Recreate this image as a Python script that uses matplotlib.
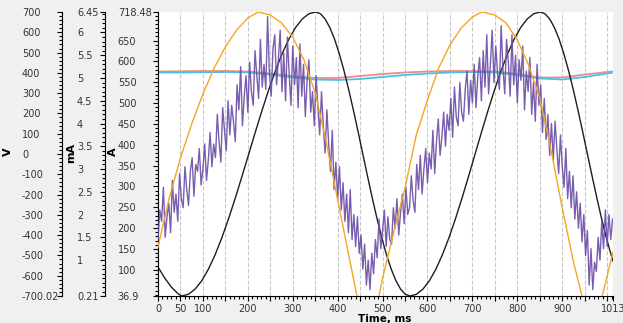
import numpy as np
import matplotlib.pyplot as plt
from matplotlib.ticker import FixedLocator, FixedFormatter, MultipleLocator

# black trace (A)
t_black = [0, 15, 30, 45, 53,
           67.9, 82.8, 97.7, 112.6, 127.5, 142.4, 157.3, 172.2, 187.1, 202, 216.9, 231.8,
           246.7, 261.6, 276.5, 291.4, 306.3, 321.2, 336.1, 351,
           361.5, 372, 382.5, 393, 403.5, 414, 424.5, 435, 445.5, 456, 466.5, 477, 487.5,
           498, 508.5, 519, 529.5, 540, 550.5, 561,
           575.5, 590, 604.5, 619, 633.5, 648, 662.5, 677, 691.5, 706, 720.5, 735, 749.5,
           764, 778.5, 793, 807.5, 822, 836.5, 851,
           861.5, 872, 882.5, 893, 903.5, 914, 924.5, 935, 945.5, 956, 966.5, 977, 987.5,
           998, 1008.5, 1013]
black_a = [106.5, 80.0, 58.0, 42.0, 36.9,
           41.1, 53.6, 74.0, 102.0, 136.7, 177.4, 223.0, 272.4, 324.4, 377.7, 431.0, 483.0,
           532.4, 578.0, 618.7, 653.4, 681.3, 701.8, 714.3, 718.48,
           714.3, 701.8, 681.3, 653.4, 618.7, 578.0, 532.4, 483.0, 431.0, 377.7, 324.4,
           272.4, 223.0, 177.4, 136.7, 102.0, 74.0, 53.6, 41.1, 36.9,
           41.1, 53.6, 74.0, 102.0, 136.7, 177.4, 223.0, 272.4, 324.4, 377.7, 431.0, 483.0,
           532.4, 578.0, 618.7, 653.4, 681.3, 701.8, 714.3, 718.48,
           714.3, 701.8, 681.3, 653.4, 618.7, 578.0, 532.4, 483.0, 431.0, 377.7, 324.4,
           272.4, 223.0, 177.4, 136.7, 120.7]

# orange trace (V)
t_orange = [0, 25, 50, 75, 100, 125, 150, 175, 200, 223, 250, 275, 300, 325, 350, 375,
            400, 425, 443, 455, 467, 480, 492, 500, 525, 550, 575, 600, 625, 650, 675,
            700, 721, 750, 775, 800, 825, 850, 875, 900, 925, 944, 955, 966, 978, 989,
            1000, 1013]
orange_v = [-458.4, -216.9, -19.7, 147.9, 295.8, 424.0, 527.6, 611.4, 670.5, 700.0,
            685.3, 645.9, 576.8, 463.5, 300.8, 54.3, -226.7, -502.8, -700.0, -790.0,
            -825.0, -790.0, -700.0, -611.3, -384.5, -167.6, 93.7, 266.3, 424.0, 537.4,
            621.2, 675.4, 700.0, 685.3, 645.9, 562.1, 438.8, 276.1, 19.8, -266.2, -532.4,
            -700.0, -790.0, -825.0, -790.0, -700.0, -601.4, -483.1]

# purple trace (mA), sampled every 4 ms
t_purple = np.arange(0, 1013, 4)
purple_ma = [
    1.45, 2.10, 1.85, 2.60, 1.50, 1.95, 2.25, 1.60, 2.75, 2.05,
    2.45, 1.85, 2.90, 2.35, 2.15, 3.05, 2.55, 2.20, 2.95, 3.25,
    2.40, 3.10, 2.95, 3.45, 2.65, 3.00, 3.55, 2.75, 3.20, 3.80,
    3.05, 3.55, 3.25, 4.20, 3.60, 3.15, 4.35, 3.85, 3.40, 4.50,
    3.75, 4.40, 4.05, 3.60, 4.85, 4.30, 5.25, 3.95, 4.60, 5.05,
    4.25, 5.35, 4.70, 4.40, 5.60, 5.05, 4.55, 5.85, 4.80, 5.30,
    4.75, 6.35, 5.10, 4.60, 5.65, 5.95, 4.85, 5.40, 6.05, 4.70,
    5.55, 4.50, 5.90, 5.10, 4.40, 5.70, 4.85, 5.45, 4.35, 5.75,
    4.60, 5.30, 4.15, 4.95, 5.40, 4.25, 4.70, 3.95, 5.05, 4.35,
    3.75, 4.70, 3.95, 3.35, 4.30, 3.55, 2.95, 3.85, 2.55, 3.15,
    2.35, 3.05, 2.10, 2.70, 1.85, 2.45, 1.60, 2.55, 1.45, 2.00,
    1.30, 1.95, 1.15, 1.55, 0.80, 1.35, 0.45, 1.00, 0.35, 1.15,
    0.70, 1.45, 1.05, 1.90, 1.25, 1.65, 2.10, 1.30, 1.95, 1.45,
    1.35, 2.15, 1.70, 2.35, 1.55, 2.05, 2.45, 1.80, 2.60, 2.00,
    2.15, 2.85, 2.30, 2.05, 3.10, 2.55, 3.30, 2.45, 3.00, 3.45,
    2.70, 3.35, 3.00, 3.85, 2.90, 3.60, 4.10, 3.30, 3.70, 4.25,
    3.50, 4.20, 3.85, 4.55, 3.70, 4.80, 4.15, 3.95, 4.90, 4.25,
    4.05, 4.75, 5.15, 4.20, 4.95, 4.45, 5.30, 4.35, 5.05, 5.45,
    4.50, 5.60, 4.80, 5.95, 4.65, 5.30, 6.05, 4.90, 5.70, 5.10,
    4.75, 6.15, 5.20, 4.65, 5.85, 5.35, 4.60, 5.95, 4.85, 5.50,
    4.45, 5.40, 4.95, 5.70, 4.30, 5.15, 4.70, 5.45, 4.20, 4.90,
    4.05, 5.30, 4.40, 4.85, 3.80, 4.55, 3.65, 4.20, 3.30, 4.00,
    3.20, 4.05, 3.45, 2.90, 3.75, 3.05, 2.60, 3.45, 2.35, 2.95,
    2.15, 2.85, 1.90, 2.50, 1.70, 2.25, 1.40, 2.00, 1.10, 1.65,
    0.45, 1.25, 0.35, 0.95, 0.75, 1.50, 1.00, 1.85, 1.25, 2.10,
    1.30, 2.00, 1.45, 1.90,
]

# near-flat traces (A)
t_flat = [0, 50, 100, 150, 200, 250, 300, 350, 400, 450, 500, 550, 600, 650, 700, 750,
          800, 850, 900, 950, 1000, 1013]
red_a = [575.7, 576.2, 576.9, 576.9, 575.7, 570.9, 564.9, 560.1, 560.1, 564.9, 569.7,
         573.3, 575.7, 576.9, 576.9, 575.7, 569.7, 561.3, 561.3, 568.5, 574.5, 575.7]
cyan_a = [573.3, 573.3, 573.8, 574.5, 573.3, 568.5, 561.3, 556.5, 555.3, 557.7, 562.5,
          567.3, 570.9, 573.3, 574.5, 573.3, 567.3, 558.9, 556.5, 562.5, 570.9, 573.3]

x_ticks = list(range(0, 1001, 50)) + [1013]
x_labels = ['0', '50', '100', '', '200', '', '300', '', '400', '', '500', '', '600', '',
            '700', '', '800', '', '900', '', '', '1013']
a_ticks = [36.9, 100, 150, 200, 250, 300, 350, 400, 450, 500, 550, 600, 650, 718.48]
a_labels = ['36.9', '100', '150', '200', '250', '300', '350', '400', '450', '500', '550',
            '600', '650', '718.48']
v_ticks = [-700.02, -600, -500, -400, -300, -200, -100, 0, 100, 200, 300, 400, 500, 600, 700]
v_labels = ['-700.02', '-600', '-500', '-400', '-300', '-200', '-100', '0', '100', '200',
            '300', '400', '500', '600', '700']
ma_ticks = [0.21, 1, 1.5, 2, 2.5, 3, 3.5, 4, 4.5, 5, 5.5, 6, 6.45]
ma_labels = ['0.21', '1', '1.5', '2', '2.5', '3', '3.5', '4', '4.5', '5', '5.5', '6', '6.45']

W, H = 623, 323
fig = plt.figure(figsize=(W / 100, H / 100), dpi=100, facecolor='#f0f0f0')
ax = fig.add_axes([158 / W, 27 / H, 455 / W, 284 / H])
ax.set_facecolor('white')
ax_ma = ax.twinx()
ax_v = ax.twinx()

ax.plot(t_flat, red_a, color='#f08a8a', lw=1.3)
ax.plot(t_flat, cyan_a, color='#45c3e6', lw=1.3)
ax.plot(t_black, black_a, color='#1e1e1e', lw=1.0)
ax_ma.plot(t_purple, purple_ma, color='#6a4ca6', lw=1.0, alpha=0.9)
ax_v.plot(t_orange, orange_v, color='#f5a623', lw=1.0)

ax.set_xlim(0, 1013)
ax.set_ylim(36.9, 718.48)
ax_ma.set_ylim(0.21, 6.45)
ax_v.set_ylim(-700.02, 700)

ax.xaxis.set_major_locator(FixedLocator(x_ticks))
ax.xaxis.set_major_formatter(FixedFormatter(x_labels))
ax.xaxis.set_minor_locator(MultipleLocator(10))
ax.grid(axis='x', color='#c8c8c8', linestyle='--', lw=0.8)
ax.set_axisbelow(True)

tick_style = dict(direction='out', color='black', width=0.8, labelsize=7, labelcolor='#333333')
ax.tick_params(axis='x', which='major', length=3.5, pad=2, **tick_style)
ax.tick_params(axis='x', which='minor', length=2, width=0.8, direction='out')

for a, ticks, labels, minor, offset, pad in [
        (ax, a_ticks, a_labels, 10, 0, 25.5),
        (ax_ma, ma_ticks, ma_labels, 0.1, 38, 16.8),
        (ax_v, v_ticks, v_labels, 20, 69, 25.5)]:
    a.spines['left'].set_position(('outward', offset))
    a.spines['right'].set_visible(False)
    a.spines['top'].set_visible(False)
    if a is not ax:
        a.spines['bottom'].set_visible(False)
        a.patch.set_visible(False)
    a.yaxis.tick_left()
    a.yaxis.set_major_locator(FixedLocator(ticks))
    a.yaxis.set_major_formatter(FixedFormatter(labels))
    a.yaxis.set_minor_locator(MultipleLocator(minor))
    a.tick_params(axis='y', which='major', length=3.5, pad=pad, **tick_style)
    a.tick_params(axis='y', which='minor', length=2, width=0.8, direction='out')
    for tk in a.yaxis.get_major_ticks():
        tk.label1.set_horizontalalignment('left')

fig.text(8 / W, 1 - 152 / H, 'V', rotation=90, ha='center', va='center',
         fontsize=8, fontweight='bold')
fig.text(71 / W, 1 - 153 / H, 'mA', rotation=90, ha='center', va='center',
         fontsize=8, fontweight='bold')
fig.text(113 / W, 1 - 152 / H, 'A', rotation=90, ha='center', va='center',
         fontsize=8, fontweight='bold')
fig.text(385 / W, 1 - 319 / H, 'Time, ms', ha='center', va='center',
         fontsize=7.5, fontweight='bold')

fig.savefig('out.png', dpi=100, facecolor=fig.get_facecolor())
